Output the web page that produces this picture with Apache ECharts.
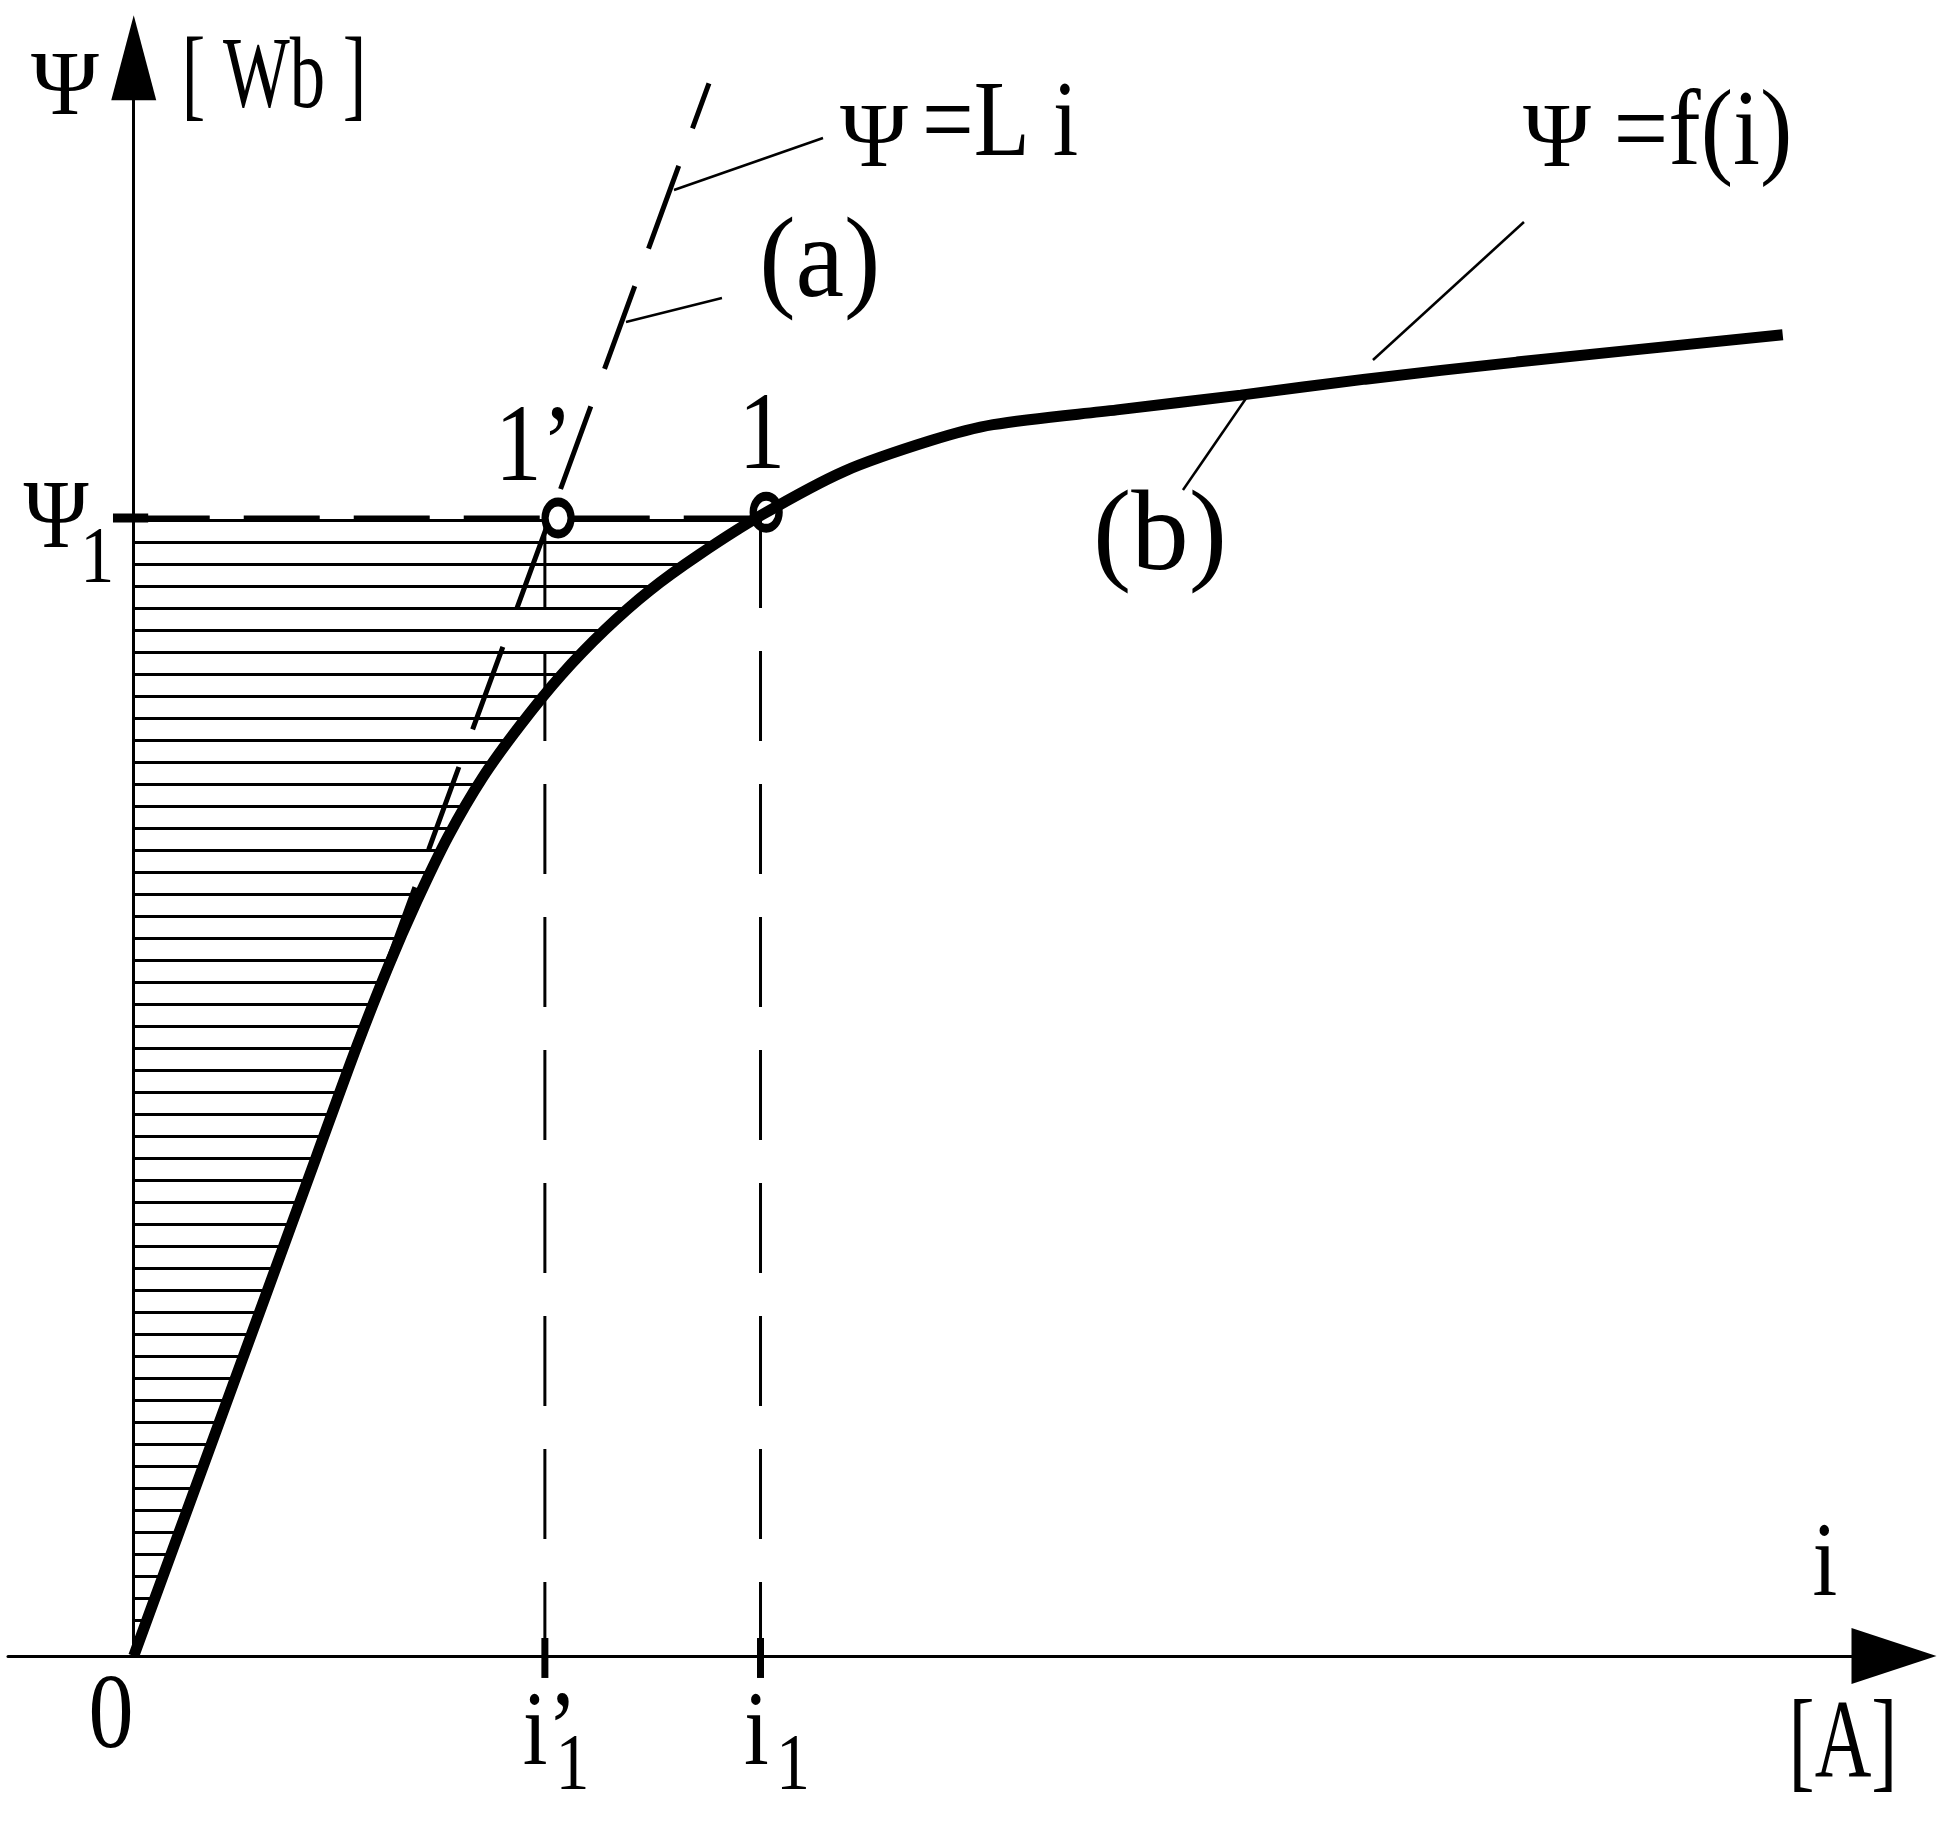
<!DOCTYPE html>
<html>
<head>
<meta charset="utf-8">
<script src="https://cdn.jsdelivr.net/npm/echarts@6/dist/echarts.min.js"></script>
<style>
html, body { margin: 0; padding: 0; background: #fff; }
#main { width: 1946px; height: 1828px; }
</style>
</head>
<body>
<div id="main"></div>
<script>
var myChart = echarts.init(document.getElementById('main'));

// magnetisation curve psi = f(i) (units: psi1 = 1, i1 = 1)
var iVals   = [0, 0.11, 0.21, 0.29, 0.355, 0.405, 0.45, 0.5, 0.555, 0.615, 0.68, 0.75, 0.82, 0.9, 1.0, 1.13, 1.268, 1.367, 1.564, 1.761, 1.959, 2.2, 2.623];
var psiVals = [0, 0.166, 0.317, 0.438, 0.536, 0.606, 0.663, 0.72, 0.772, 0.818, 0.862, 0.902, 0.936, 0.968, 1.003, 1.041, 1.068, 1.082, 1.095, 1.108, 1.122, 1.137, 1.161];

// straight line psi = L i (drawn from its top end down to the origin)
var liLine = [[0.915, 1.382], [0, 0]];

var psi1 = 1.0;
var iPrime1 = 0.654;
var i1 = 0.997;
var marked = [[0.675, 1.0], [1.006, 1.005]];   // points 1' and 1

// leader lines from the labels to the curves
var leaders = [
    [[0.8594, 1.2882], [1.0964, 1.3339]],
    [[0.7830, 1.1722], [0.9357, 1.1933]],
    [[1.9712, 1.1388], [2.2114, 1.2601]],
    [[1.7708, 1.1063], [1.6690, 1.0246]]
];

// text: [text, i, psi, fontSize, scaleX]
var notes = [
    ['Ψ', -0.1093, 1.3766, 92, 1.0],
    ['[ Wb ]', 0.2232, 1.3849, 101, 0.7],
    ['Ψ', 1.1775, 1.3304, 92, 1.0],
    ['=L i', 1.378, 1.3436, 108, 0.85],
    ['(a)', 1.0913, 1.2214, 115, 0.95],
    ['Ψ', 2.264, 1.3304, 92, 1.0],
    ['=f(i)', 2.4961, 1.3357, 108, 0.9],
    ['(b)', 1.6324, 0.9815, 115, 1.0],
    ['1’', 0.6367, 1.0589, 110, 0.85],
    ['1', 0.999, 1.0694, 110, 0.85],
    ['Ψ', -0.1236, 0.9974, 98, 0.9],
    ['1', -0.0582, 0.9622, 80, 0.85],
    ['0', -0.036, -0.0554, 106, 0.85],
    ['i’', 0.6622, -0.0703, 105, 0.85],
    ['1', 0.698, -0.098, 80, 0.85],
    ['i', 0.9906, -0.0703, 105, 0.85],
    ['1', 1.0487, -0.098, 80, 0.85],
    ['i', 2.6901, 0.0782, 105, 0.85],
    ['[A]', 2.7188, -0.0808, 112, 0.7]
];

var curve = iVals.map(function (v, k) { return [v, psiVals[k]]; });
var hatchPart = curve.filter(function (p) { return p[0] <= 1.0; });

// horizontal hatching used as area fill
var hatch = document.createElement('canvas');
hatch.width = 40;
hatch.height = 22;
var hctx = hatch.getContext('2d');
hctx.fillStyle = '#000';
hctx.fillRect(0, 13, 40, 3);

function seg(data, width, dash, extra) {
    var s = {
        type: 'line',
        data: data,
        symbol: 'none',
        silent: true,
        clip: false,
        lineStyle: { color: '#000', width: width, type: dash || 'solid', opacity: 1 },
        z: 3
    };
    if (extra) {
        for (var k in extra) s.lineStyle[k] = extra[k];
    }
    return s;
}

var series = [
    {
        type: 'line',
        data: hatchPart,
        smooth: 0.3,
        symbol: 'none',
        silent: true,
        lineStyle: { opacity: 0 },
        areaStyle: { origin: psi1, color: { image: hatch, repeat: 'repeat' }, opacity: 1 },
        z: 1
    },
    seg(liLine, 5, [88, 40], { dashOffset: 40 }),
    seg([[0, psi1], [i1, psi1]], 5, [76, 34]),
    seg([[-0.033, psi1], [0.023, psi1]], 9),
    seg([[iPrime1, psi1], [iPrime1, 0]], 3, [90, 43]),
    seg([[i1, psi1], [i1, 0]], 3, [90, 43]),
    seg([[iPrime1, 0.0158], [iPrime1, -0.0193]], 7),
    seg([[i1, 0.0158], [i1, -0.0193]], 7)
];
leaders.forEach(function (l) { series.push(seg(l, 2.5)); });
series.push({
    type: 'line',
    data: curve,
    smooth: 0.3,
    symbol: 'none',
    silent: true,
    lineStyle: { color: '#000', width: 11, opacity: 1 },
    z: 5
});
series.push({
    type: 'scatter',
    symbol: 'circle',
    symbolSize: [26, 32],
    silent: true,
    z: 6,
    data: [
        { value: marked[0], itemStyle: { color: '#fff', borderColor: '#000', borderWidth: 8, opacity: 1 } },
        { value: marked[1], itemStyle: { color: 'rgba(0,0,0,0)', borderColor: '#000', borderWidth: 8, opacity: 1 } }
    ]
});

var option = {
    backgroundColor: '#fff',
    animation: false,
    grid: {
        left: 8,
        right: 52,
        top: 62.8,
        bottom: 172,
        containLabel: false,
        outerBoundsMode: 'none'
    },
    xAxis: {
        type: 'value',
        min: -0.2,
        max: 2.8,
        splitLine: { show: false },
        axisTick: { show: false },
        axisLabel: { show: false },
        axisLine: {
            onZero: true,
            symbol: ['none', 'triangle'],
            symbolSize: [56, 85],
            lineStyle: { color: '#000', width: 3 }
        }
    },
    yAxis: {
        type: 'value',
        min: 0,
        max: 1.4,
        splitLine: { show: false },
        axisTick: { show: false },
        axisLabel: { show: false },
        axisLine: {
            onZero: true,
            symbol: ['none', 'triangle'],
            symbolSize: [45, 85],
            symbolOffset: [0, 5],
            lineStyle: { color: '#000', width: 3 }
        }
    },
    series: series
};
myChart.setOption(option);

// place the texts at their data positions
var texts = notes.map(function (n) {
    var p = myChart.convertToPixel({ gridIndex: 0 }, [n[1], n[2]]);
    return {
        type: 'text',
        x: p[0],
        y: p[1],
        scaleX: n[4],
        silent: true,
        z: 10,
        style: {
            text: n[0],
            fill: '#000',
            fontFamily: 'Liberation Serif',
            fontSize: n[3],
            align: 'center',
            verticalAlign: 'middle'
        }
    };
});
myChart.setOption({ graphic: texts });
</script>
</body>
</html>
